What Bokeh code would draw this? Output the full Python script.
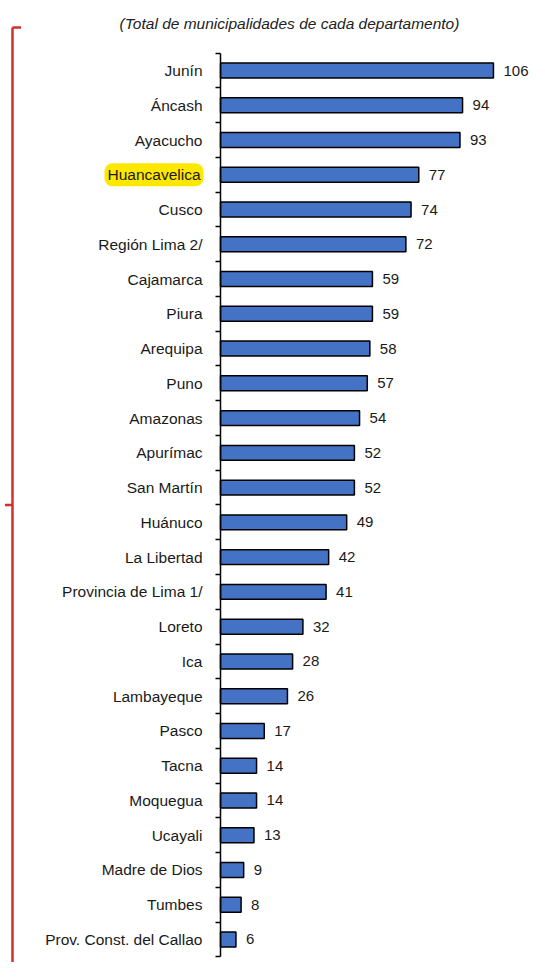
from bokeh.plotting import figure
from bokeh.models import Range1d, FixedTicker, Label, ColumnDataSource
from bokeh.core.properties import value
from bokeh.embed import file_html
from bokeh.resources import INLINE

departamentos = ["Junín", "Áncash", "Ayacucho", "Huancavelica", "Cusco", "Región Lima 2/",
                 "Cajamarca", "Piura", "Arequipa", "Puno", "Amazonas", "Apurímac",
                 "San Martín", "Huánuco", "La Libertad", "Provincia de Lima 1/", "Loreto",
                 "Ica", "Lambayeque", "Pasco", "Tacna", "Moquegua", "Ucayali",
                 "Madre de Dios", "Tumbes", "Prov. Const. del Callao"]
municipalidades = [106, 94, 93, 77, 74, 72, 59, 59, 58, 57, 54, 52, 52, 49, 42, 41, 32,
                   28, 26, 17, 14, 14, 13, 9, 8, 6]
destacado = "Huancavelica"
titulo = "(Total de municipalidades de cada departamento)"

n = len(departamentos)
pos = [float(n - 1 - i) for i in range(n)]
src = ColumnDataSource(dict(y=pos, v=municipalidades, name=departamentos,
                            txt=[str(v) for v in municipalidades]))

W, H = 529, 962
p = figure(width=W, height=H, output_backend="svg", toolbar_location=None,
           x_range=Range1d(-85.44, 120.0), y_range=Range1d(-0.662, 27.014),
           min_border=0, outline_line_color=None)
p.grid.visible = False
p.xaxis.visible = False
p.background_fill_color = "white"

FONT = "Liberation Sans"
TXT = "#1a1a1a"

p.hbar(y="y", left=0, right="v", height=0.43, source=src,
       fill_color="#4472C4", line_color="black", line_width=1.5)
p.text(x="v", y="y", text="txt", source=src, x_offset=10, text_align="left",
       text_baseline="middle", text_font=value(FONT), text_font_size="15px",
       text_color=TXT)

ax = p.yaxis[0]
ax.fixed_location = 0
ax.bounds = (-0.5, n - 0.5)
ax.ticker = FixedTicker(ticks=pos, minor_ticks=[k - 0.5 for k in range(n + 1)])
overrides = {pp: nm for pp, nm in zip(pos, departamentos)}
hi_y = pos[departamentos.index(destacado)]
overrides[hi_y] = ""
ax.major_label_overrides = overrides
ax.major_tick_out = 0
ax.major_tick_in = 0
ax.minor_tick_out = 5
ax.minor_tick_in = 0
ax.minor_tick_line_color = "black"
ax.minor_tick_line_width = 1.5
ax.axis_line_color = "black"
ax.axis_line_width = 1.5
ax.major_label_standoff = 13
ax.major_label_text_font = FONT
ax.major_label_text_font_size = "15.5px"
ax.major_label_text_color = TXT

p.text(x=[0], y=[hi_y], text=[destacado], x_offset=-17, text_align="right",
       text_baseline="middle", text_font=value(FONT), text_font_size="15.5px",
       text_color=TXT, background_fill_color="#FFE800",
       border_radius=8, padding=3)

# red bracket
bc = "#D32F2F"
p.segment(x0=[-80.78, -80.78, -83.69], y0=[26.237, 26.237, 12.5],
          x1=[-80.78, -77.48, -80.78], y1=[-1.5, 26.237, 12.5],
          line_color=bc, line_width=2.5)

p.add_layout(Label(x=26.8, y=26.35, text=titulo, text_align="center",
                   text_baseline="middle", text_font=FONT, text_font_size="15.5px",
                   text_font_style="italic", text_color="#222222"))

open("out.html", "w").write(file_html(p, INLINE))
